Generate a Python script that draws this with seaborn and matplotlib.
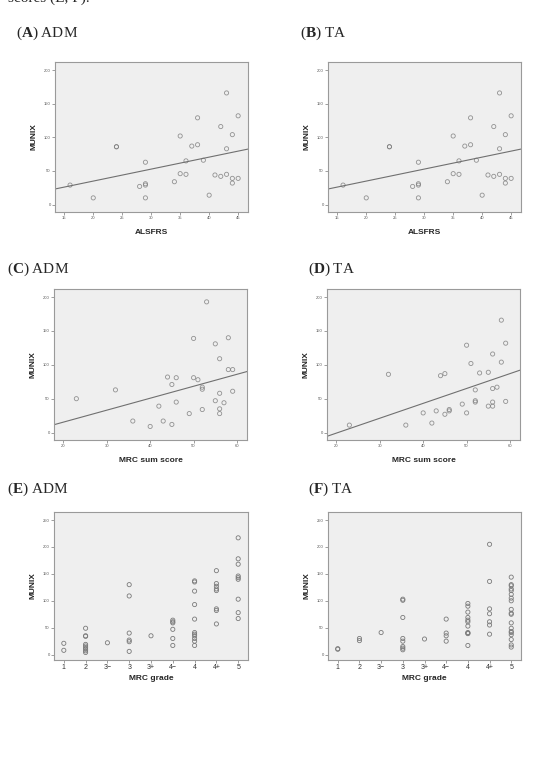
import matplotlib
matplotlib.use("Agg")
import matplotlib.pyplot as plt
import pandas as pd
import seaborn as sns

# ALSFRS vs MUNIX (same values shown in panels A and B)
alsfrs = [16, 20, 24, 24, 28, 29, 29, 29, 29, 34, 35, 35, 36, 36, 37, 38, 38,
          39, 40, 41, 42, 42, 43, 43, 43, 44, 44, 44, 45, 45]
munix_alsfrs = [29, 10, 86, 86, 27, 63, 31, 29, 10, 34, 102, 46, 65, 45, 87, 129, 89,
                66, 14, 44, 116, 42, 166, 83, 45, 104, 39, 32, 132, 39]

# MRC sum score vs MUNIX, ADM (C)
mrc_sum_adm = [23, 32, 36, 40, 42, 43, 44, 45, 45, 46, 46, 49, 50, 50, 51, 52, 52,
               52, 53, 55, 55, 56, 56, 56, 56, 57, 58, 58, 59, 59]
munix_adm = [50, 63, 17, 9, 39, 17, 82, 71, 12, 81, 45, 28, 139, 81, 78, 67, 64,
             34, 193, 131, 47, 109, 58, 35, 28, 44, 140, 93, 93, 61]

# MRC sum score vs MUNIX, TA (D)
mrc_sum_ta = [23, 32, 36, 40, 42, 43, 44, 45, 45, 46, 46, 49, 50, 50, 51, 52, 52,
              52, 53, 55, 55, 56, 56, 56, 56, 57, 58, 58, 59, 59]
munix_ta = [11, 86, 11, 29, 14, 32, 84, 87, 27, 34, 32, 42, 129, 29, 102, 63, 47,
            45, 88, 89, 39, 116, 65, 45, 39, 67, 166, 104, 132, 46]

grades = ["1", "2", "3\u2212", "3", "3+", "4\u2212", "4", "4+", "5"]

# MRC grade vs MUNIX, ADM (E)
grade_adm = (["1"] * 2 + ["2"] * 9 + ["3\u2212"] + ["3"] * 6 + ["3+"]
             + ["4\u2212"] * 6 + ["4"] * 11 + ["4+"] * 8 + ["5"] * 9)
munix_grade_adm = [21, 8,
                   49, 35, 34, 19, 16, 13, 10, 7, 4,
                   22,
                   130, 109, 40, 27, 24, 6,
                   35,
                   64, 61, 59, 47, 30, 17,
                   137, 135, 118, 93, 66, 41, 38, 35, 30, 25, 17,
                   156, 132, 127, 122, 119, 85, 82, 57,
                   217, 178, 168, 146, 143, 140, 103, 78, 67]

# MRC grade vs MUNIX, TA (F)
grade_ta = (["1"] * 2 + ["2"] * 2 + ["3\u2212"] + ["3"] * 8 + ["3+"]
            + ["4\u2212"] * 4 + ["4"] * 11 + ["4+"] * 7 + ["5"] * 19)
munix_grade_ta = [11, 10,
                  30, 26,
                  41,
                  103, 101, 69, 30, 25, 15, 12, 9,
                  29,
                  66, 40, 35, 25,
                  95, 90, 79, 69, 64, 61, 53, 41, 40, 39, 17,
                  205, 136, 85, 76, 61, 55, 38,
                  144, 130, 128, 122, 119, 112, 105, 100, 84, 77, 75, 59, 49, 43,
                  41, 37, 28, 18, 14]

W, H = 535, 766
EDGE = "#7a7a7a"
BG = "#efefef"

sns.set_style("ticks")
plt.rcParams["font.family"] = ["Liberation Sans", "DejaVu Sans"]
plt.rcParams["mathtext.fontset"] = "custom"
plt.rcParams["mathtext.rm"] = "Liberation Serif"
plt.rcParams["mathtext.bf"] = "Liberation Serif:bold"

fig = plt.figure(figsize=(W / 100, H / 100), dpi=100)


def make_ax(x0, y0, x1, y1):
    ax = fig.add_axes([x0 / W, 1 - y1 / H, (x1 - x0) / W, (y1 - y0) / H])
    ax.set_facecolor(BG)
    for s in ax.spines.values():
        s.set_color("#9a9a9a")
        s.set_linewidth(0.8)
    ax.tick_params(length=2, width=0.5, color="#777777", labelsize=3,
                   labelcolor="#555555", pad=1)
    return ax


def style_points(ax):
    for c in ax.collections:
        c.set_facecolor("none")
        c.set_edgecolor(EDGE)
        c.set_linewidth(0.6)


def reg_panel(ax, x, y, xlim, xticks, xlabel):
    df = pd.DataFrame({"x": x, "y": y})
    ax.set_xlim(xlim)
    sns.regplot(data=df, x="x", y="y", ax=ax, ci=None, truncate=False,
                scatter_kws={"s": 9, "facecolors": "none", "edgecolors": EDGE},
                line_kws={"color": "#707070", "lw": 0.8})
    style_points(ax)
    ax.set_xlim(xlim)
    ax.set_ylim(-11, 212)
    ax.set_xticks(xticks)
    ax.set_yticks([0, 50, 100, 150, 200])
    ax.set_xlabel(xlabel, fontsize=6, fontweight="bold", labelpad=6)
    ax.set_ylabel("MUNIX", fontsize=6, fontweight="bold", labelpad=5)


def grade_panel(ax, g, y):
    df = pd.DataFrame({"grade": g, "y": y})
    sns.stripplot(data=df, x="grade", y="y", order=grades, jitter=False, ax=ax,
                  size=3, color=EDGE, linewidth=0.6)
    style_points(ax)
    ax.set_xlim(-0.45, 8.45)
    ax.set_ylim(-10, 265)
    ax.set_yticks([0, 50, 100, 150, 200, 250])
    ax.tick_params(axis="x", labelsize=5, labelcolor="#333333")
    ax.set_xlabel("MRC grade", fontsize=6, fontweight="bold", labelpad=3)
    ax.set_ylabel("MUNIX", fontsize=6, fontweight="bold", labelpad=5)


def title(x, y, letter, name):
    fig.text(x / W, 1 - y / H, r"($\mathbf{" + letter + r"}$) " + name,
             fontsize=11, family="Liberation Serif", va="center", ha="left")


# caption line from the page above, cut by the image edge
fig.text(8 / W, 1 + 1.5 / H, "scores (E, F).", fontsize=11, family="Liberation Serif",
         va="center", ha="left")

axA = make_ax(55, 62, 248, 212)
reg_panel(axA, alsfrs, munix_alsfrs, (13.4, 46.7), [15, 20, 25, 30, 35, 40, 45], "ALSFRS")
title(16, 33, "A", "ADM")

axB = make_ax(328, 62, 521, 212)
reg_panel(axB, alsfrs, munix_alsfrs, (13.4, 46.7), [15, 20, 25, 30, 35, 40, 45], "ALSFRS")
title(300, 33, "B", "TA")

axC = make_ax(54, 289, 247, 440)
reg_panel(axC, mrc_sum_adm, munix_adm, (17.85, 62.3), [20, 30, 40, 50, 60], "MRC sum score")
title(7, 269, "C", "ADM")

axD = make_ax(327, 289, 520, 440)
reg_panel(axD, mrc_sum_ta, munix_ta, (17.85, 62.3), [20, 30, 40, 50, 60], "MRC sum score")
title(308, 269, "D", "TA")

axE = make_ax(54, 512, 248, 660)
grade_panel(axE, grade_adm, munix_grade_adm)
title(7, 489, "E", "ADM")

axF = make_ax(328, 512, 521, 660)
grade_panel(axF, grade_ta, munix_grade_ta)
title(308, 489, "F", "TA")

fig.savefig("out.png", dpi=100, facecolor="white")
